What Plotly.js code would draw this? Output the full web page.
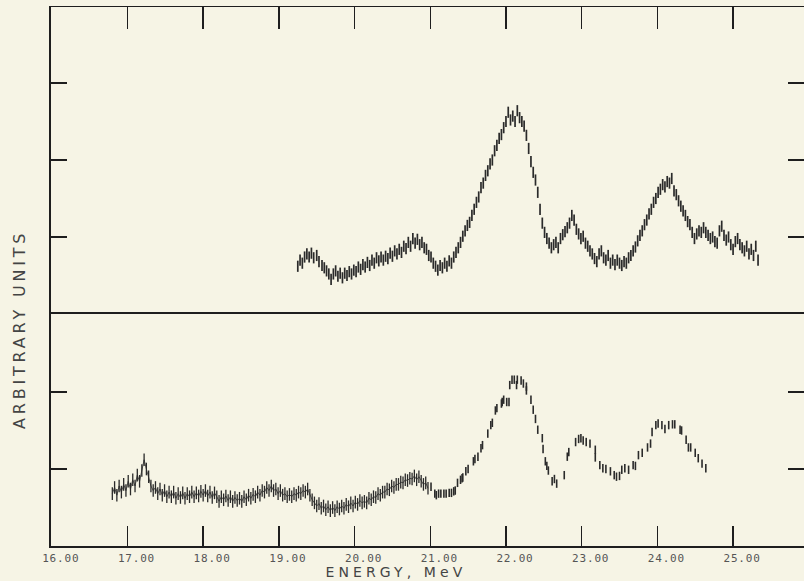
<!DOCTYPE html>
<html>
<head>
<meta charset="utf-8">
<script src="https://cdn.plot.ly/plotly-3.0.1.min.js"></script>
<style>
  html, body { margin: 0; padding: 0; background: #f6f4e5; }
  #chart { width: 804px; height: 581px; }
  .annotation[data-index="0"] .annotation-text { letter-spacing: 4.1px; }
  .annotation[data-index="1"] .annotation-text { letter-spacing: 3.8px; }
  .xtick text { letter-spacing: 0.8px; }
</style>
</head>
<body>
<div id="chart"></div>
<script>
// ---- Upper spectrum (arbitrary units) ----
const upperEnergy = [
  19.25,19.28,19.31,19.34,19.37,19.40,19.43,19.46,19.50,19.53,
  19.57,19.60,19.63,19.66,19.69,19.72,19.75,19.78,19.81,19.84,
  19.87,19.90,19.93,19.96,19.99,20.02,20.05,20.08,20.11,20.14,
  20.17,20.20,20.23,20.26,20.29,20.32,20.35,20.38,20.41,20.44,
  20.47,20.50,20.53,20.56,20.59,20.62,20.65,20.68,20.71,20.74,
  20.77,20.80,20.83,20.86,20.89,20.92,20.95,20.98,21.01,21.04,
  21.07,21.10,21.13,21.16,21.19,21.22,21.25,21.28,21.31,21.34,
  21.37,21.40,21.43,21.46,21.49,21.52,21.55,21.58,21.61,21.64,
  21.67,21.70,21.73,21.76,21.79,21.82,21.85,21.88,21.91,21.94,
  21.97,22.00,22.03,22.06,22.09,22.12,22.15,22.18,22.21,22.24,
  22.27,22.30,22.33,22.36,22.39,22.42,22.45,22.48,22.51,22.54,
  22.57,22.60,22.63,22.66,22.69,22.72,22.75,22.78,22.81,22.84,
  22.87,22.90,22.93,22.96,22.99,23.02,23.05,23.08,23.11,23.14,
  23.17,23.20,23.23,23.26,23.29,23.32,23.35,23.38,23.41,23.44,
  23.47,23.50,23.53,23.56,23.59,23.62,23.65,23.68,23.71,23.74,
  23.77,23.80,23.83,23.86,23.89,23.92,23.95,23.98,24.01,24.04,
  24.07,24.10,24.13,24.16,24.19,24.22,24.25,24.28,24.31,24.34,
  24.37,24.40,24.43,24.46,24.49,24.52,24.55,24.58,24.61,24.64,
  24.67,24.70,24.73,24.76,24.79,24.82,24.85,24.88,24.91,24.94,
  24.97,25.00,25.03,25.06,25.09,25.12,25.15,25.18,25.21,25.24,
  25.27,25.30,25.33
];
const upperCounts = [
  0.62,0.70,0.66,0.74,0.78,0.74,0.79,0.73,0.76,0.68,
  0.63,0.60,0.56,0.52,0.45,0.52,0.56,0.49,0.53,0.47,
  0.53,0.50,0.55,0.52,0.57,0.55,0.61,0.58,0.64,0.61,
  0.67,0.63,0.70,0.66,0.73,0.69,0.74,0.70,0.75,0.72,
  0.79,0.75,0.82,0.78,0.84,0.80,0.88,0.85,0.93,0.88,
  0.98,0.92,0.97,0.90,0.93,0.86,0.84,0.76,0.74,0.66,
  0.62,0.57,0.63,0.60,0.66,0.62,0.69,0.66,0.74,0.80,
  0.86,0.93,1.01,1.08,1.15,1.19,1.28,1.36,1.45,1.52,
  1.64,1.70,1.80,1.86,1.95,2.00,2.12,2.19,2.28,2.33,
  2.42,2.50,2.62,2.52,2.57,2.50,2.64,2.55,2.50,2.44,
  2.32,2.15,1.98,1.84,1.74,1.58,1.36,1.18,1.06,0.98,
  0.92,0.86,0.90,0.93,0.86,0.98,1.03,1.07,1.12,1.18,
  1.28,1.22,1.10,1.04,0.98,1.01,0.92,0.88,0.82,0.78,
  0.72,0.68,0.78,0.82,0.73,0.70,0.76,0.66,0.70,0.64,
  0.70,0.66,0.63,0.68,0.66,0.73,0.76,0.82,0.87,0.95,
  1.02,1.08,1.16,1.22,1.30,1.36,1.45,1.50,1.58,1.62,
  1.68,1.65,1.72,1.70,1.76,1.60,1.55,1.47,1.40,1.34,
  1.28,1.20,1.16,1.06,0.98,1.04,1.08,1.06,1.12,1.06,
  1.02,0.98,1.00,0.94,0.92,1.08,1.14,1.02,0.96,1.00,
  0.90,0.84,0.94,0.98,0.90,0.86,0.82,0.88,0.78,0.84,
  0.76,0.88,0.70
];

// ---- Lower spectrum, densely sampled part ----
const lowerEnergyDense = [
  16.80,16.83,16.86,16.89,16.92,16.95,16.98,17.01,17.04,17.07,
  17.10,17.13,17.16,17.19,17.22,17.25,17.28,17.31,17.34,17.37,
  17.40,17.43,17.46,17.49,17.52,17.55,17.58,17.61,17.64,17.67,
  17.70,17.73,17.76,17.79,17.82,17.85,17.88,17.91,17.94,17.97,
  18.00,18.03,18.06,18.09,18.12,18.15,18.18,18.21,18.24,18.27,
  18.30,18.33,18.36,18.39,18.42,18.45,18.48,18.51,18.54,18.57,
  18.60,18.63,18.66,18.69,18.72,18.75,18.78,18.81,18.84,18.87,
  18.90,18.93,18.96,18.99,19.02,19.05,19.08,19.11,19.14,19.17,
  19.20,19.23,19.26,19.29,19.32,19.35,19.38,19.41,19.44,19.47,
  19.50,19.53,19.56,19.59,19.62,19.65,19.68,19.71,19.74,19.77,
  19.80,19.83,19.86,19.89,19.92,19.95,19.98,20.01,20.04,20.07,
  20.10,20.13,20.16,20.19,20.22,20.25,20.28,20.31,20.34,20.37,
  20.40,20.43,20.46,20.49,20.52,20.55,20.58,20.61,20.64,20.67,
  20.70,20.73,20.76,20.79,20.82,20.85,20.88,20.91,20.94,20.97
];
const lowerCountsDense = [
  0.68,0.76,0.66,0.78,0.70,0.80,0.72,0.84,0.74,0.86,
  0.78,0.92,0.84,0.98,1.12,1.00,0.90,0.78,0.72,0.76,
  0.68,0.74,0.66,0.72,0.64,0.70,0.64,0.70,0.62,0.68,
  0.63,0.69,0.62,0.68,0.64,0.70,0.64,0.69,0.65,0.71,
  0.66,0.72,0.65,0.70,0.63,0.69,0.64,0.58,0.64,0.60,
  0.65,0.59,0.64,0.58,0.63,0.59,0.62,0.58,0.64,0.60,
  0.66,0.62,0.67,0.64,0.70,0.66,0.72,0.70,0.76,0.72,
  0.78,0.72,0.74,0.68,0.72,0.66,0.68,0.64,0.67,0.64,
  0.68,0.66,0.70,0.68,0.72,0.70,0.74,0.66,0.60,0.56,
  0.52,0.55,0.49,0.52,0.47,0.51,0.46,0.50,0.46,0.51,
  0.48,0.52,0.49,0.54,0.51,0.56,0.52,0.57,0.54,0.59,
  0.56,0.58,0.56,0.62,0.60,0.64,0.63,0.68,0.66,0.70,
  0.70,0.74,0.73,0.78,0.76,0.80,0.80,0.83,0.82,0.86,
  0.85,0.88,0.87,0.91,0.86,0.90,0.84,0.80,0.82,0.75
];

// ---- Lower spectrum, sparsely sampled part ----
const lowerEnergySparse = [
  21.01,21.06,21.08,21.11,21.14,21.18,21.21,21.25,21.28,21.31,
  21.33,21.36,21.40,21.42,21.43,21.47,21.50,21.57,21.59,21.63,
  21.67,21.69,21.76,21.80,21.82,21.86,21.88,21.94,21.95,21.97,
  22.01,22.04,22.05,22.08,22.11,22.14,22.15,22.20,22.23,22.27,
  22.27,22.33,22.36,22.39,22.42,22.48,22.49,22.52,22.54,22.56,
  22.61,22.64,22.67,22.77,22.81,22.83,22.92,22.96,22.99,23.02,
  23.06,23.11,23.18,23.18,23.24,23.28,23.32,23.38,23.43,23.46,
  23.50,23.53,23.57,23.62,23.68,23.71,23.75,23.80,23.87,23.91,
  23.93,23.98,24.01,24.06,24.10,24.15,24.20,24.23,24.30,24.32,
  24.38,24.41,24.44,24.50,24.54,24.59,24.64
];
const lowerCountsSparse = [
  0.77,0.68,0.66,0.68,0.68,0.68,0.68,0.69,0.69,0.71,
  0.72,0.82,0.86,0.88,0.89,0.97,1.00,1.10,1.13,1.16,
  1.27,1.31,1.46,1.57,1.60,1.76,1.79,1.85,1.87,1.90,
  1.87,1.87,2.09,2.16,2.16,2.09,2.16,2.15,2.11,2.07,
  2.02,1.90,1.77,1.65,1.51,1.40,1.26,1.10,1.04,0.98,
  0.84,0.87,0.81,0.92,1.16,1.22,1.35,1.39,1.40,1.37,
  1.35,1.33,1.25,1.15,1.05,1.01,1.00,0.97,0.92,0.90,
  0.91,0.99,1.01,0.99,1.05,1.04,1.18,1.21,1.28,1.33,
  1.48,1.57,1.59,1.57,1.52,1.57,1.58,1.58,1.51,1.50,
  1.38,1.28,1.28,1.21,1.14,1.07,1.01
];

const xTicks = [16,17,18,19,20,21,22,23,24,25];
const xTickText = ["16.00","17.00","18.00","19.00","20.00","21.00","22.00","23.00","24.00","25.00"];
const lowerTicks = [1, 2];
const upperTicks = [1, 2, 3];

const ink = '#2a2a2a';
const mk = (size, w) => ({symbol: 'line-ns-open', size: size, color: ink, line: {width: w, color: ink}});

const traces = [
  {x: upperEnergy, y: upperCounts, xaxis: 'x2', yaxis: 'y2', type: 'scatter', mode: 'markers',
   marker: mk(8, 1.7), hoverinfo: 'skip'},
  {x: lowerEnergyDense, y: lowerCountsDense, xaxis: 'x', yaxis: 'y', type: 'scatter', mode: 'lines+markers',
   line: {width: 0.8, color: ink}, marker: mk(9, 1.3), hoverinfo: 'skip'},
  {x: lowerEnergySparse, y: lowerCountsSparse, xaxis: 'x', yaxis: 'y', type: 'scatter', mode: 'markers',
   marker: mk(6, 1.6), hoverinfo: 'skip'},
  // transparent copies that carry the right-hand tick axes
  {x: lowerEnergySparse, y: lowerCountsSparse, xaxis: 'x', yaxis: 'y3', type: 'scatter', mode: 'markers',
   opacity: 0, hoverinfo: 'skip'},
  {x: upperEnergy, y: upperCounts, xaxis: 'x2', yaxis: 'y4', type: 'scatter', mode: 'markers',
   opacity: 0, hoverinfo: 'skip'}
];

const split = 232 / 539;
const xRange = [15.99, 25.937];
const lowRange = [0, 3.013];
const upRange = [0, 3.987];
const lineCol = '#1e1e1e';

const layout = {
  width: 804, height: 581,
  margin: {l: 51, r: 0, t: 7, b: 35, pad: 0},
  paper_bgcolor: '#f6f4e5',
  plot_bgcolor: '#f6f4e5',
  showlegend: false,
  font: {family: 'DejaVu Sans Mono, monospace', size: 11, color: '#555'},
  xaxis: {
    domain: [0, 1], anchor: 'y', range: xRange, showgrid: false, zeroline: false,
    showline: true, linewidth: 2, linecolor: lineCol, mirror: true,
    ticks: 'inside', ticklen: 20, tickwidth: 1.5, tickcolor: lineCol,
    tickvals: xTicks, ticktext: xTickText, ticklabelshift: 9, ticklabelstandoff: 1,
    tickfont: {family: 'DejaVu Sans Mono, monospace', size: 11, color: '#555'}
  },
  xaxis2: {
    domain: [0, 1], anchor: 'y2', matches: 'x', range: xRange, side: 'top',
    showgrid: false, zeroline: false, showline: true, linewidth: 1.5, linecolor: lineCol,
    ticks: 'inside', ticklen: 22, tickwidth: 1.5, tickcolor: lineCol,
    tickvals: xTicks, showticklabels: false
  },
  yaxis: {
    domain: [0, split], anchor: 'x', range: lowRange, showgrid: false, zeroline: false,
    showline: true, linewidth: 2, linecolor: lineCol,
    ticks: 'inside', ticklen: 16, tickwidth: 1.5, tickcolor: lineCol,
    tickvals: lowerTicks, showticklabels: false
  },
  yaxis2: {
    domain: [split, 1], anchor: 'x2', range: upRange, showgrid: false, zeroline: false,
    showline: true, linewidth: 2, linecolor: lineCol,
    ticks: 'inside', ticklen: 16, tickwidth: 1.5, tickcolor: lineCol,
    tickvals: upperTicks, showticklabels: false
  },
  yaxis3: {
    overlaying: 'y', side: 'right', anchor: 'x', range: lowRange, showgrid: false, zeroline: false,
    showline: false, ticks: 'inside', ticklen: 16, tickwidth: 1.5, tickcolor: lineCol,
    tickvals: lowerTicks, showticklabels: false
  },
  yaxis4: {
    overlaying: 'y2', side: 'right', anchor: 'x2', range: upRange, showgrid: false, zeroline: false,
    showline: false, ticks: 'inside', ticklen: 16, tickwidth: 1.5, tickcolor: lineCol,
    tickvals: upperTicks, showticklabels: false
  },
  annotations: [
    {text: 'ENERGY, MeV', xref: 'paper', yref: 'paper', x: (396 - 51) / 753, y: -35 / 539,
     xanchor: 'center', yanchor: 'bottom', showarrow: false, borderpad: 0,
     font: {family: 'DejaVu Sans, sans-serif', size: 14, color: '#444'}},
    {text: 'ARBITRARY UNITS', xref: 'paper', yref: 'paper', x: (18.5 - 51) / 753, y: 216 / 539,
     xanchor: 'center', yanchor: 'middle', showarrow: false, textangle: -90,
     font: {family: 'DejaVu Sans, sans-serif', size: 16, color: '#444'}}
  ]
};

Plotly.newPlot('chart', traces, layout, {staticPlot: true, displayModeBar: false});
</script>
</body>
</html>
